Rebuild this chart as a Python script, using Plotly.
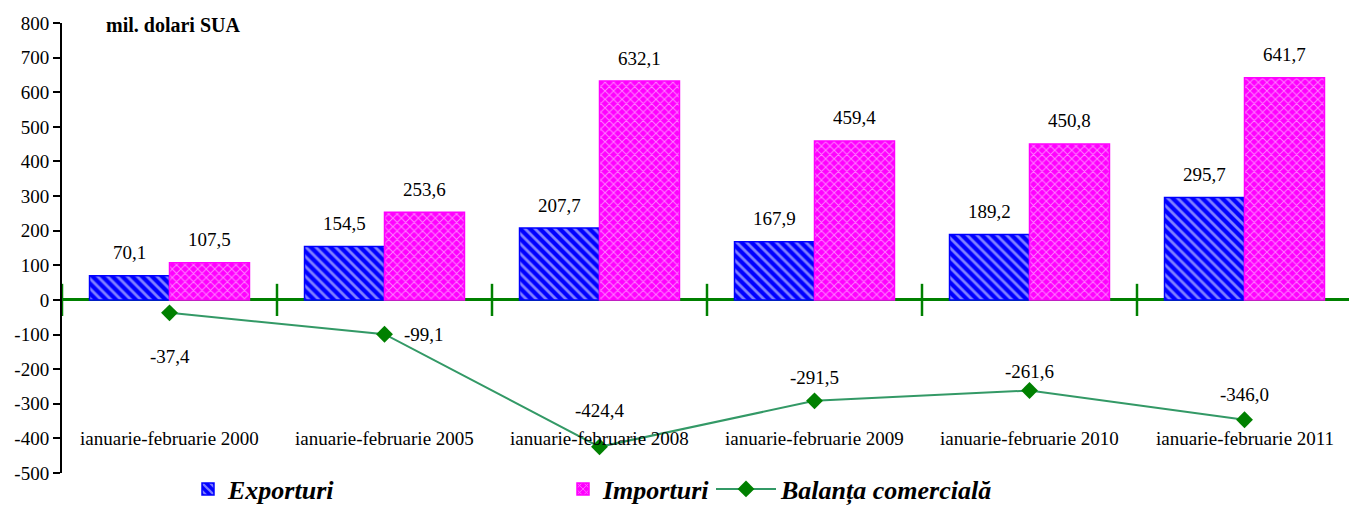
import plotly.graph_objects as go

categories = ["ianuarie-februarie 2000", "ianuarie-februarie 2005", "ianuarie-februarie 2008",
              "ianuarie-februarie 2009", "ianuarie-februarie 2010", "ianuarie-februarie 2011"]
exporturi = [70.1, 154.5, 207.7, 167.9, 189.2, 295.7]
importuri = [107.5, 253.6, 632.1, 459.4, 450.8, 641.7]
balanta = [-37.4, -99.1, -424.4, -291.5, -261.6, -346.0]
y_ticks = list(range(-500, 801, 100))

# label placement offsets for line labels (px): (xshift, yshift)
bal_label_shift = [(0, -44), (39, 0), (0, 36), (0, 23), (0, 19), (0, 25)]

FONT = "Liberation Serif"
BLUE = "#0000FF"
MAGENTA = "#FF00FF"
GREEN = "#008000"
LINEGREEN = "#339966"

def fmt(v):
    return f"{v:.1f}".replace(".", ",")

x = [float(i) for i in range(len(categories))]
bw = 0.372

fig = go.Figure()
fig.add_trace(go.Bar(
    x=x, y=exporturi, width=bw, offset=-bw, name="Exporturi",
    marker=dict(color=BLUE, line=dict(color=BLUE, width=1.5),
                pattern=dict(shape="\\", fgcolor="white", size=7, solidity=0.4)),
    legend="legend", hoverinfo="skip"))
fig.add_trace(go.Bar(
    x=x, y=importuri, width=bw, offset=0, name="Importuri",
    marker=dict(color=MAGENTA, line=dict(color=MAGENTA, width=1.5),
                pattern=dict(shape="x", fgcolor="white", size=6, solidity=0.3)),
    legend="legend2", hoverinfo="skip"))
# category boundary tick marks on the zero line
bounds = [i - 0.5 for i in range(len(categories) + 1)]
fig.add_trace(go.Scatter(
    x=bounds, y=[0.0] * len(bounds), mode="markers", showlegend=False, hoverinfo="skip",
    marker=dict(symbol="line-ns", size=23, line=dict(color=GREEN, width=2.5)),
    cliponaxis=False))
fig.add_trace(go.Scatter(
    x=x, y=balanta, mode="lines+markers", name="Balanța comercială",
    line=dict(color=LINEGREEN, width=2),
    marker=dict(symbol="diamond", size=13, color=GREEN),
    legend="legend3", hoverinfo="skip", cliponaxis=False))

ann = []
for i, (e, im) in enumerate(zip(exporturi, importuri)):
    ann.append(dict(x=i - bw / 2, y=e, text=fmt(e), showarrow=False, yshift=23,
                    yanchor="middle", font=dict(family=FONT, size=19, color="black")))
    ann.append(dict(x=i + bw / 2, y=im, text=fmt(im), showarrow=False, yshift=23,
                    yanchor="middle", font=dict(family=FONT, size=19, color="black")))
for i, b in enumerate(balanta):
    xs, ys = bal_label_shift[i]
    ann.append(dict(x=i, y=b, text=fmt(b), showarrow=False, xshift=xs, yshift=ys,
                    yanchor="middle", font=dict(family=FONT, size=19, color="black")))
for i, c in enumerate(categories):
    ann.append(dict(x=i, y=-400, text=c, showarrow=False, yanchor="middle",
                    font=dict(family=FONT, size=19, color="black")))
ann.append(dict(xref="paper", yref="paper", x=(104 - 62) / 1290, y=0.995, xanchor="left",
                yanchor="middle", text="<b>mil. dolari SUA</b>", showarrow=False,
                font=dict(family=FONT, size=20, color="black")))

legfont = dict(family=FONT, size=26, color="black", weight="bold", style="italic")
W = 1290.0
L = 62.0
leg_y = -(489 - 473) / 450.0
leg_common = dict(y=leg_y, xanchor="left", yanchor="middle", font=legfont,
                  bgcolor="rgba(0,0,0,0)")
# page body has an 8px margin: shift the figure so the plot lands where the reference's does
fig.update_layout(
    width=1349, height=497,
    margin=dict(l=54, r=5, t=15, b=32, autoexpand=False),
    paper_bgcolor="white", plot_bgcolor="white",
    barmode="overlay",
    xaxis=dict(type="linear", range=[-0.5, 5.5], showticklabels=False, showgrid=False,
               zeroline=False, showline=False, ticks=""),
    yaxis=dict(range=[-500, 800], tickvals=y_ticks, ticktext=[str(t) for t in y_ticks],
               showgrid=False, zeroline=True, zerolinecolor=GREEN, zerolinewidth=2.5,
               showline=True, linecolor="black", linewidth=2,
               ticks="outside", ticklen=7, tickwidth=2, tickcolor="black",
               tickfont=dict(family=FONT, size=19, color="black")),
    annotations=ann,
    legend=dict(x=(188 - L) / W, itemwidth=30, **leg_common),
    legend2=dict(x=(563 - L) / W, itemwidth=30, **leg_common),
    legend3=dict(x=(711 - L) / W, itemwidth=60, **leg_common),
    showlegend=True,
)

fig.write_html("out.html")
